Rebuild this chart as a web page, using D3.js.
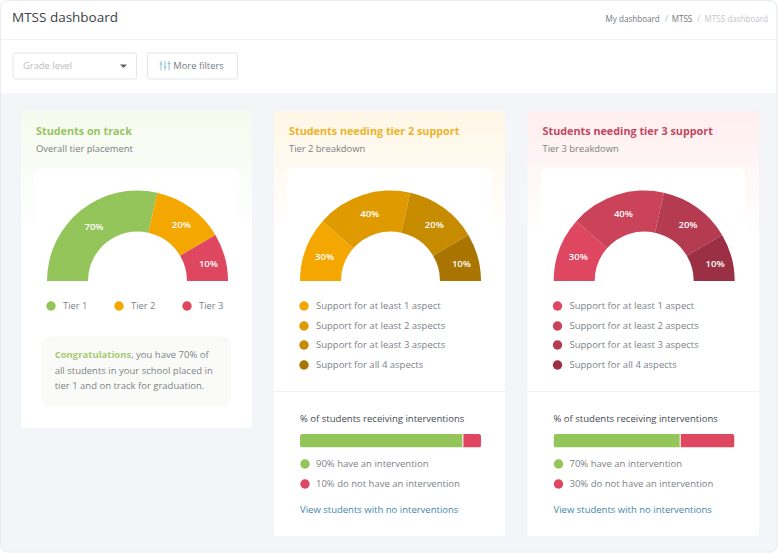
<!DOCTYPE html>
<html>
<head>
<meta charset="utf-8">
<script src="https://cdn.jsdelivr.net/npm/d3@7"></script>
<style>
  html, body { margin: 0; padding: 0; background: #fff; }
  svg { display: block; }
  text { font-family: "Open Sans", "Noto Sans", sans-serif; }
</style>
</head>
<body>
<div id="viz"></div>
<script>
// labels printed on the gauges
const overall_labels = ["70%", "20%", "10%"];
const tier2_labels = ["30%", "40%", "20%", "10%"];
const tier3_labels = ["30%", "40%", "20%", "10%"];

// drawn share of each slice (not the same as the labels)
const overall_shares = [57, 26, 17];
const tier2_shares = [23, 34, 26, 17];
const tier3_shares = [23, 34, 26, 17];

const overall_colors = ["#93c55a", "#f3a700", "#df4760"];
const tier2_colors = ["#f3a700", "#df9a00", "#c78b00", "#a97400"];
const tier3_colors = ["#df4760", "#ca4358", "#b43b50", "#9b3044"];

const overall_legend = ["Tier 1", "Tier 2", "Tier 3"];
const support_legend = [
  "Support for at least 1 aspect",
  "Support for at least 2 aspects",
  "Support for at least 3 aspects",
  "Support for all 4 aspects"
];

const tier2_intervention = [90, 10];
const tier3_intervention = [70, 30];
const tier2_intervention_text = ["90% have an intervention", "10% do not have an intervention"];
const tier3_intervention_text = ["70% have an intervention", "30% do not have an intervention"];

const width = 778;
const height = 553;
const font_grey = "#7d8288";

const svg = d3.select("#viz").append("svg")
  .attr("width", width)
  .attr("height", height);
const defs = svg.append("defs");

// outer frame and page background
svg.append("rect").attr("width", width).attr("height", height).attr("fill", "#fff");
svg.append("rect")
  .attr("x", 0.5).attr("y", 0.5).attr("width", width - 1.5).attr("height", height - 1.5)
  .attr("rx", 7).attr("fill", "#f3f5f9").attr("stroke", "#e8ebf0");

// white header block, square at the bottom
svg.append("path")
  .attr("d", "M1,93 V8 Q1,1 8,1 H769 Q776,1 776,8 V93 Z")
  .attr("fill", "#fff");
svg.append("line")
  .attr("x1", 1).attr("x2", 776).attr("y1", 39.5).attr("y2", 39.5)
  .attr("stroke", "#f0f1f4");

function label(g, x, y, str, size, fill, weight) {
  return g.append("text")
    .attr("x", x).attr("y", y)
    .attr("dy", "0.35em")
    .attr("font-size", size)
    .attr("font-weight", weight || 400)
    .attr("fill", fill)
    .text(str);
}

label(svg, 12, 17, "MTSS dashboard", 13.5, "#3c4148");

// breadcrumb
label(svg, 605.5, 19, "My dashboard", 8.1, "#72777d", 500);
label(svg, 665, 19, "/", 8.1, "#b3b7bc");
label(svg, 671.7, 19, "MTSS", 8.1, "#72777d", 500);
label(svg, 697, 19, "/", 8.1, "#c6c9cd");
label(svg, 704.5, 19, "MTSS dashboard", 8.1, "#c2c5c9");

// filter controls
svg.append("rect")
  .attr("x", 13).attr("y", 53).attr("width", 123.5).attr("height", 26).attr("rx", 2)
  .attr("fill", "#fff").attr("stroke", "#e3e6eb");
label(svg, 23, 66, "Grade level", 9.4, "#b9bcc1");
svg.append("path")
  .attr("d", d3.line()([[120, 64.5], [127, 64.5], [123.5, 68]]))
  .attr("fill", "#5d6268");

svg.append("rect")
  .attr("x", 147.5).attr("y", 53).attr("width", 90).attr("height", 26).attr("rx", 2)
  .attr("fill", "#fff").attr("stroke", "#e3e6eb");
const icon = svg.append("g").attr("stroke", "#8fc1d4").attr("stroke-width", 1);
[161, 165, 169].forEach(function (x, i) {
  icon.append("line").attr("x1", x).attr("x2", x).attr("y1", 61).attr("y2", 70.5);
  const knob = [64, 67, 63.5][i];
  icon.append("line").attr("x1", x - 1.5).attr("x2", x + 1.5).attr("y1", knob).attr("y2", knob);
});
label(svg, 173.3, 66, "More filters", 9.4, "#787d83");

// gauge arcs
const pie = d3.pie().sort(null).startAngle(-Math.PI / 2).endAngle(Math.PI / 2);
const arc = d3.arc().innerRadius(49.5).outerRadius(90.5);
const label_arc = d3.arc().innerRadius(72).outerRadius(72);

function gauge(g, cx, shares, labels, colors) {
  const chart = g.append("g").attr("transform", "translate(" + cx + ",281)");
  const slices = pie(shares);
  chart.selectAll("path")
    .data(slices)
    .enter().append("path")
    .attr("d", arc)
    .attr("fill", function (d, i) { return colors[i]; });
  chart.selectAll("text")
    .data(slices)
    .enter().append("text")
    .attr("transform", function (d) {
      const c = label_arc.centroid(d);
      return "translate(" + (c[0] + 1.5) + "," + (c[1] + 1.5) + ")";
    })
    .attr("text-anchor", "middle")
    .attr("dy", "0.35em")
    .attr("font-size", 9.5)
    .attr("font-weight", 600)
    .attr("fill", "#fff")
    .text(function (d, i) { return labels[i]; });
}

function card(id, x, card_width, card_height, tint, title, title_color, subtitle) {
  const grad = defs.append("linearGradient")
    .attr("id", id)
    .attr("x1", 0).attr("x2", 0).attr("y1", 0).attr("y2", 1);
  const fade = 125 / card_height;
  grad.append("stop").attr("offset", 0).attr("stop-color", tint);
  grad.append("stop").attr("offset", fade).attr("stop-color", "#fff");
  grad.append("stop").attr("offset", 1).attr("stop-color", "#fff");

  const g = svg.append("g");
  g.append("rect")
    .attr("x", x).attr("y", 111).attr("width", card_width).attr("height", card_height)
    .attr("rx", 1.5)
    .attr("fill", "url(#" + id + ")");
  g.append("rect")
    .attr("x", x + 13).attr("y", 168).attr("width", 205).attr("height", 90)
    .attr("rx", 7).attr("fill", "#fff");
  label(g, x + 15, 131, title, 10.8, title_color, 700);
  label(g, x + 15, 149, subtitle, 9.4, "#7b8086");
  return g;
}

function dot(g, x, y, r, color) {
  g.append("circle").attr("cx", x).attr("cy", y).attr("r", r).attr("fill", color);
}

// first card
const card1 = card("grad1", 21, 231, 317, "#f5faee", "Students on track", "#98c565", "Overall tier placement");
gauge(card1, 137.5, overall_shares, overall_labels, overall_colors);
overall_legend.forEach(function (d, i) {
  const x = 51 + i * 68;
  dot(card1, x, 306, 4.7, overall_colors[i]);
  label(card1, x + 12, 306, d, 9.4, font_grey);
});
card1.append("rect")
  .attr("x", 41.5).attr("y", 336.5).attr("width", 189.5).attr("height", 70)
  .attr("rx", 8).attr("fill", "#fafbf8");
const note = label(card1, 54.7, 355, "", 9.5, font_grey);
note.append("tspan").attr("font-weight", 700).attr("fill", "#a3cc72").text("Congratulations");
note.append("tspan").text(", you have 70% of");
label(card1, 54.7, 371, "all students in your school placed in", 9.5, font_grey);
label(card1, 54.7, 386, "tier 1 and on track for graduation.", 9.5, font_grey);

// bottom part of the two tier cards
function breakdown(g, x, colors, values, texts) {
  support_legend.forEach(function (d, i) {
    const y = [306, 326, 345, 365][i];
    dot(g, x + 30, y, 4.7, colors[i]);
    label(g, x + 42, y, d, 9.5, font_grey);
  });
  g.append("line")
    .attr("x1", x).attr("x2", x + 231.5).attr("y1", 391.5).attr("y2", 391.5)
    .attr("stroke", "#eff1f4");
  label(g, x + 26, 419, "% of students receiving interventions", 9.55, "#44494f");

  // stacked bar
  const bar_x = d3.scaleLinear().domain([0, 100]).range([x + 26, x + 207]);
  const clip_id = "clip" + Math.round(x);
  defs.append("clipPath").attr("id", clip_id).append("rect")
    .attr("x", bar_x(0)).attr("y", 434)
    .attr("width", bar_x(100) - bar_x(0)).attr("height", 13.5).attr("rx", 2.5);
  const bar = g.append("g").attr("clip-path", "url(#" + clip_id + ")");
  bar.append("rect")
    .attr("x", bar_x(0)).attr("y", 434)
    .attr("width", bar_x(values[0]) - bar_x(0)).attr("height", 13.5)
    .attr("fill", overall_colors[0]);
  bar.append("rect")
    .attr("x", bar_x(values[0])).attr("y", 434)
    .attr("width", bar_x(100) - bar_x(values[0])).attr("height", 13.5)
    .attr("fill", overall_colors[2]);
  bar.append("line")
    .attr("x1", bar_x(values[0])).attr("x2", bar_x(values[0]))
    .attr("y1", 434).attr("y2", 447.5)
    .attr("stroke", "#fff").attr("stroke-width", 1);

  dot(g, x + 31, 464, 4.7, overall_colors[0]);
  label(g, x + 42, 464, texts[0], 9.5, font_grey);
  dot(g, x + 31, 484, 4.7, overall_colors[2]);
  label(g, x + 42, 484, texts[1], 9.5, font_grey);
  label(g, x + 26, 510, "View students with no interventions", 9.5, "#3f88a8");
}

const card2 = card("grad2", 274, 231, 425, "#fff6e6", "Students needing tier 2 support", "#edb32c", "Tier 2 breakdown");
gauge(card2, 390.5, tier2_shares, tier2_labels, tier2_colors);
breakdown(card2, 274, tier2_colors, tier2_intervention, tier2_intervention_text);

const card3 = card("grad3", 527.5, 231.5, 425, "#ffeeef", "Students needing tier 3 support", "#c4475f", "Tier 3 breakdown");
gauge(card3, 644.2, tier3_shares, tier3_labels, tier3_colors);
breakdown(card3, 527.5, tier3_colors, tier3_intervention, tier3_intervention_text);
</script>
</body>
</html>
